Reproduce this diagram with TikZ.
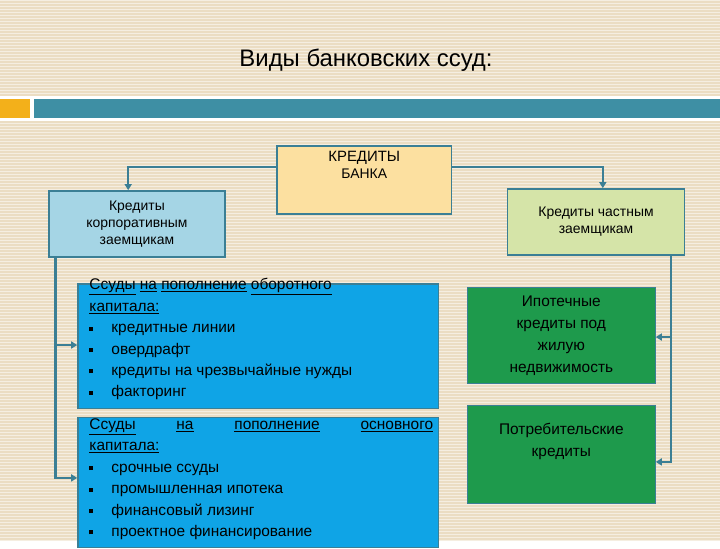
\documentclass[tikz,border=0pt]{standalone}
\usepackage{fontspec}
\setmainfont{Liberation Sans}
\usetikzlibrary{arrows.meta}
\definecolor{bg}{HTML}{EBDDC3}
\definecolor{teal}{HTML}{3E8FA4}
\definecolor{orng}{HTML}{F3B01A}
\definecolor{lblue}{HTML}{A5D5E5}
\definecolor{lgreen}{HTML}{D5E4A8}
\definecolor{cream}{HTML}{FCE0A0}
\definecolor{blu}{HTML}{0FA4E6}
\definecolor{grn}{HTML}{1E9A4C}
\definecolor{edge}{HTML}{3B7F95}
\newcommand{\bul}{\makebox[22bp][l]{\rule[2bp]{4bp}{4bp}}}
\begin{document}
\begin{tikzpicture}[x=1bp,y=-1bp,
  bx/.style={draw=edge,line width=1.5bp,inner sep=3bp,font=\fontsize{14}{17}\selectfont,align=center},
  lst/.style={draw=edge,line width=1.5bp,fill=blu,anchor=north west,inner sep=0pt,minimum width=361bp,text width=350bp,align=justify,font=\fontsize{15.5}{21.5}\selectfont},
  gb/.style={draw=edge,line width=1bp,fill=grn,minimum width=188bp,align=center,font=\fontsize{15.5}{22}\selectfont},
  con/.style={draw=edge,line width=2.5bp,-{Triangle[length=6bp,width=7bp]}}]
\fill[bg] (0,0) rectangle (720,540);
\foreach \y in {0,3,...,540} \draw[white!50!bg,line width=0.6bp] (0,\y) -- (720,\y);
\node (title) at (366,60) {\fontsize{24}{28}\selectfont Виды банковских ссуд:};
\fill[white] (0,96) rectangle (720,121);
\fill[orng] (0,99) rectangle (30,118);
\fill[teal] (34,99) rectangle (720,118);
\node[bx,fill=cream,minimum width=175bp,minimum height=68bp,anchor=north west,text depth=30bp] (bank) at (276,145) {\fontsize{15}{22}\selectfont КРЕДИТЫ\\БАНКА};
\node[bx,fill=lblue,minimum width=176bp,minimum height=66bp,anchor=north west] (corp) at (48,190) {Кредиты\\корпоративным\\заемщикам};
\node[bx,fill=lgreen,minimum width=177bp,minimum height=66bp,anchor=north west] (priv) at (507,188) {Кредиты частным\\заемщикам};
\node[lst,minimum height=125bp] (b1) at (77,283) {\hspace*{6bp}\parbox[t]{344bp}{\vspace*{-14bp}\underline{Ссуды} \underline{на} \underline{пополнение} \underline{оборотного}\\ \underline{капитала:}\\ \bul кредитные линии\\ \bul овердрафт\\ \bul кредиты на чрезвычайные нужды\\ \bul факторинг}};
\node[lst,minimum height=130bp] (b2) at (77,417) {\hspace*{6bp}\parbox[t]{344bp}{\vspace*{-7bp}\underline{Ссуды} \hfill \underline{на} \hfill \underline{пополнение} \hfill \underline{основного}\\ \underline{капитала:}\\ \bul срочные ссуды\\ \bul промышленная ипотека\\ \bul финансовый лизинг\\ \bul проектное финансирование}};
\node[gb,minimum height=96bp,anchor=north west] (g1) at (467,287) {Ипотечные\\кредиты под\\жилую\\недвижимость};
\node[gb,minimum height=98bp,anchor=north west,text depth=30bp] (g2) at (467,405) {Потребительские\\кредиты};
\coordinate (l1) at (128,167);
\coordinate (r1) at (603,167);
\draw[con] (bank.west |- l1) -| (corp.north -| l1);
\draw[con] (bank.east |- r1) -| (priv.north -| r1);
\coordinate (lx) at (55,0);
\coordinate (rx) at (671,0);
\draw[con] (corp.south -| lx) |- (b1.west |- 0,345);
\draw[con] (corp.south -| lx) |- (b2.west |- 0,478);
\draw[con] (priv.south -| rx) |- (g1.east |- 0,337);
\draw[con] (priv.south -| rx) |- (g2.east |- 0,462);
\useasboundingbox (0,0) rectangle (720,540);
\end{tikzpicture}
\end{document}
